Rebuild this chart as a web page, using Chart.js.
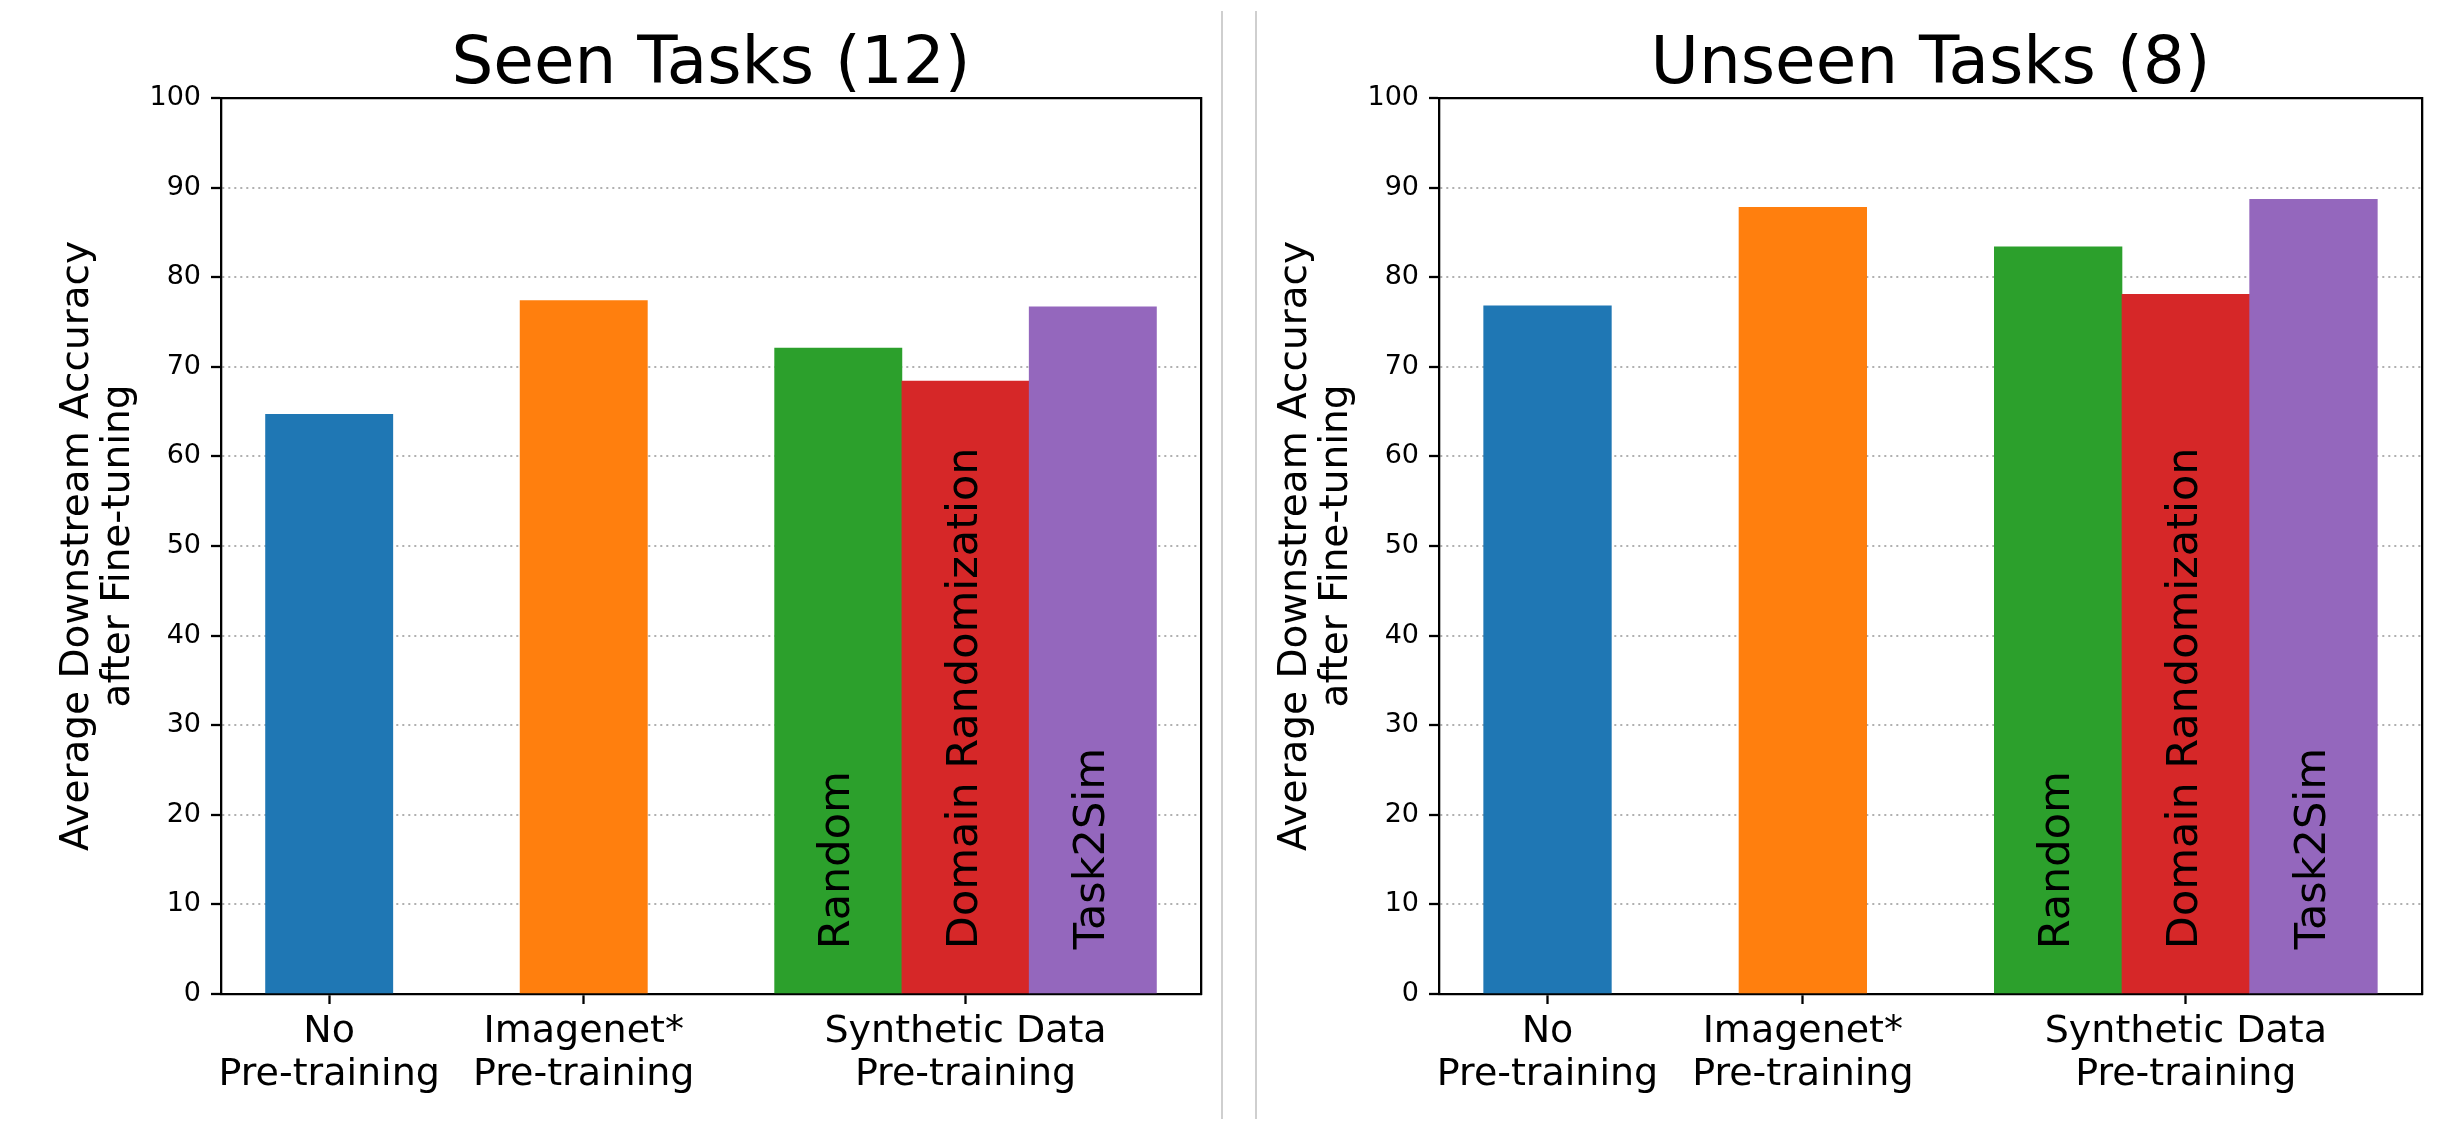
<!DOCTYPE html>
<html>
<head>
<meta charset="utf-8">
<script src="https://cdn.jsdelivr.net/npm/chart.js@4.4.0/dist/chart.umd.min.js"></script>
<style>
  html, body { margin: 0; padding: 0; background: #ffffff; }
  #page { position: relative; width: 2442px; height: 1129px; overflow: hidden; background: #ffffff; }
  canvas { position: absolute; top: 0; }
  #c1 { left: 0px; }
  #c2 { left: 1218px; }
  .divider { position: absolute; top: 11px; height: 1108px; width: 2px; background: #cfcfcf; }
</style>
</head>
<body>
<div id="page">
  <canvas id="c1" width="1221" height="1129"></canvas>
  <canvas id="c2" width="1224" height="1129"></canvas>
  <div class="divider" style="left:1221px"></div>
  <div class="divider" style="left:1255px"></div>
</div>
<script>
// ---- data ----
const panelTitles = ['Seen Tasks (12)', 'Unseen Tasks (8)'];
const tickPositions = [0, 1, 2.5];
const tickLabels = [['No', 'Pre-training'], ['Imagenet*', 'Pre-training'], ['Synthetic Data', 'Pre-training']];
const barPositions = [0, 1, 2, 2.5, 3];
const barNames = ['', '', 'Random', 'Domain Randomization', 'Task2Sim'];
const seenValues = [64.7, 77.4, 72.1, 68.4, 76.7];
const unseenValues = [76.8, 87.8, 83.4, 78.1, 88.7];
const barColors = ['#1f77b4', '#ff7f0e', '#2ca02c', '#d62728', '#9467bd'];
const yTitle = ['Average Downstream Accuracy', 'after Fine-tuning'];
const innerLabelAt = 5;

const FONT = "'DejaVu Sans', sans-serif";
const SPINE = 2.3;

const innerLabelPlugin = {
  id: 'innerLabels',
  afterDatasetsDraw(chart) {
    const ctx = chart.ctx;
    const xs = chart.scales.x, ys = chart.scales.y;
    ctx.save();
    ctx.fillStyle = '#000000';
    ctx.font = '43px ' + FONT;
    ctx.textAlign = 'left';
    ctx.textBaseline = 'middle';
    barNames.forEach((name, i) => {
      if (!name) return;
      const px = xs.getPixelForValue(barPositions[i]);
      const py = ys.getPixelForValue(innerLabelAt);
      ctx.save();
      ctx.translate(px, py);
      ctx.rotate(-Math.PI / 2);
      ctx.fillText(name, 0, 0);
      ctx.restore();
    });
    ctx.restore();
  }
};

function makeChart(canvasId, title, values) {
  const ctx = document.getElementById(canvasId).getContext('2d');
  return new Chart(ctx, {
    type: 'bar',
    data: {
      datasets: [{
        data: barPositions.map((x, i) => ({ x: x, y: values[i] })),
        backgroundColor: barColors,
        borderWidth: 0,
        barPercentage: 1.0,
        categoryPercentage: 1.0
      }]
    },
    options: {
      responsive: false,
      animation: false,
      devicePixelRatio: 1,
      layout: { padding: { left: 0, right: 20, top: 0, bottom: 0 } },
      plugins: {
        legend: { display: false },
        tooltip: { enabled: false },
        title: {
          display: true,
          fullSize: false,
          text: title,
          color: '#000000',
          font: { family: FONT, size: 66, weight: 'normal', lineHeight: 0.9 },
          padding: { top: 36, bottom: 2.6 }
        }
      },
      scales: {
        x: {
          type: 'linear',
          position: 'bottom',
          min: -0.425,
          max: 3.425,
          offset: false,
          afterBuildTicks: (s) => { s.ticks = tickPositions.map(v => ({ value: v })); },
          afterFit: (s) => { s.height = 135; },
          grid: { display: true, drawOnChartArea: false, drawTicks: true, tickLength: 10, tickColor: '#000000', tickWidth: SPINE, offset: false },
          border: { display: true, color: '#000000', width: SPINE },
          ticks: {
            autoSkip: false,
            maxRotation: 0,
            minRotation: 0,
            padding: 6,
            color: '#000000',
            font: { family: FONT, size: 38, lineHeight: 1.15 },
            callback: (v) => { const k = tickPositions.indexOf(v); return k >= 0 ? tickLabels[k] : ''; }
          }
        },
        y: {
          type: 'linear',
          position: 'left',
          min: 0,
          max: 100,
          z: 1,
          afterFit: (s) => { s.width = 221; },
          grid: { display: true, drawOnChartArea: true, color: '#b0b0b0', lineWidth: 2, drawTicks: true, tickLength: 10, tickColor: '#000000', tickWidth: SPINE, tickBorderDash: [] },
          border: { display: true, color: '#000000', width: SPINE, dash: [2, 4] },
          ticks: {
            stepSize: 10,
            padding: 10,
            color: '#000000',
            font: { family: FONT, size: 27 }
          },
          title: {
            display: true,
            text: yTitle,
            color: '#000000',
            font: { family: FONT, size: 39, lineHeight: 1.05 },
            padding: { top: 57, bottom: 0 }
          }
        },
        xTop: {
          type: 'linear',
          position: 'top',
          min: 0, max: 1,
          afterFit: (s) => { s.height = 0; },
          grid: { display: false, drawTicks: false },
          ticks: { display: false },
          border: { display: true, color: '#000000', width: SPINE }
        },
        yRight: {
          type: 'linear',
          position: 'right',
          min: 0, max: 1,
          afterFit: (s) => { s.width = 0; },
          grid: { display: false, drawTicks: false },
          ticks: { display: false },
          border: { display: true, color: '#000000', width: SPINE }
        }
      }
    },
    plugins: [innerLabelPlugin]
  });
}

makeChart('c1', panelTitles[0], seenValues);
makeChart('c2', panelTitles[1], unseenValues);
</script>
</body>
</html>
